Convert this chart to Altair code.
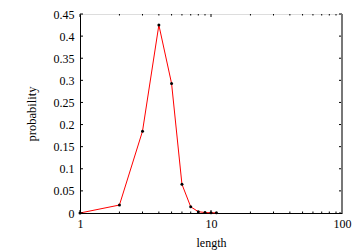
import altair as alt
import pandas as pd

lengths = [1, 2, 3, 4, 5, 6, 7, 8, 9, 10, 11]
probs = [0.0, 0.018, 0.185, 0.425, 0.293, 0.065, 0.014, 0.003, 0.001, 0.0005, 0.0003]
x_major = [1, 10, 100]
x_minor = [2, 3, 4, 5, 6, 7, 8, 9, 20, 30, 40, 50, 60, 70, 80, 90]
y_ticks = [0, 0.05, 0.1, 0.15, 0.2, 0.25, 0.3, 0.35, 0.4, 0.45]

W, H = 262, 199
FONT = "Liberation Serif"

df = pd.DataFrame({"length": lengths, "probability": probs})
xs = alt.Scale(type="log", domain=[1, 100])
ys = alt.Scale(domain=[0, 0.45])

xaxis = alt.Axis(title="length", values=x_major, format="d", tickSize=0, labelFont=FONT,
                 labelFontSize=12, labelColor="black", titleFont=FONT, titleFontSize=12,
                 titleFontWeight="normal", titleColor="black", labelPadding=5, titlePadding=8,
                 grid=False, domainColor="black", labelFlush=False, labelOverlap=False)
yaxis = alt.Axis(title="probability", values=y_ticks, tickSize=0, labelFont=FONT,
                 labelFontSize=12, labelColor="black", titleFont=FONT, titleFontSize=12.5,
                 titleFontWeight="normal", titleColor="black", labelPadding=6, titlePadding=15,
                 grid=False, domainColor="black", format="~g", labelOverlap=False,
                 labelFlush=False)

line = alt.Chart(df).mark_line(color="red", strokeWidth=1).encode(
    x=alt.X("length:Q", scale=xs, axis=xaxis),
    y=alt.Y("probability:Q", scale=ys, axis=yaxis),
)
pts = alt.Chart(df).mark_circle(color="black", size=9, opacity=1).encode(
    x=alt.X("length:Q", scale=xs, axis=xaxis), y=alt.Y("probability:Q", scale=ys, axis=yaxis)
)

def xt(vals, ln):
    d = pd.DataFrame({"v": vals})
    bot = alt.Chart(d).mark_rule(color="black", strokeWidth=1).encode(
        x=alt.X("v:Q", scale=xs, axis=xaxis), y=alt.value(H), y2=alt.value(H - ln))
    top = alt.Chart(d).mark_rule(color="black", strokeWidth=1).encode(
        x=alt.X("v:Q", scale=xs, axis=xaxis), y=alt.value(0), y2=alt.value(ln))
    return [bot, top]

yd = pd.DataFrame({"v": y_ticks})
yl = alt.Chart(yd).mark_rule(color="black", strokeWidth=1).encode(
    y=alt.Y("v:Q", scale=ys, axis=yaxis), x=alt.value(0), x2=alt.value(3))
yr = alt.Chart(yd).mark_rule(color="black", strokeWidth=1).encode(
    y=alt.Y("v:Q", scale=ys, axis=yaxis), x=alt.value(W - 3), x2=alt.value(W))
rborder = alt.Chart(yd).mark_rule(color="#777777", strokeWidth=1.5).encode(
    x=alt.value(W), y=alt.value(0), y2=alt.value(H))

chart = alt.layer(line, *xt(x_major, 3), *xt(x_minor, 1.5), yl, yr, rborder, pts).properties(
    width=W, height=H,
    autosize=alt.AutoSizeParams(type="none"),
    padding={"left": 80, "top": 14, "right": 18, "bottom": 39},
).configure_view(stroke="black", strokeWidth=1).configure(
    background="white", font=FONT
)

chart.save("out.html", embed_options={"renderer": "svg", "actions": False})
